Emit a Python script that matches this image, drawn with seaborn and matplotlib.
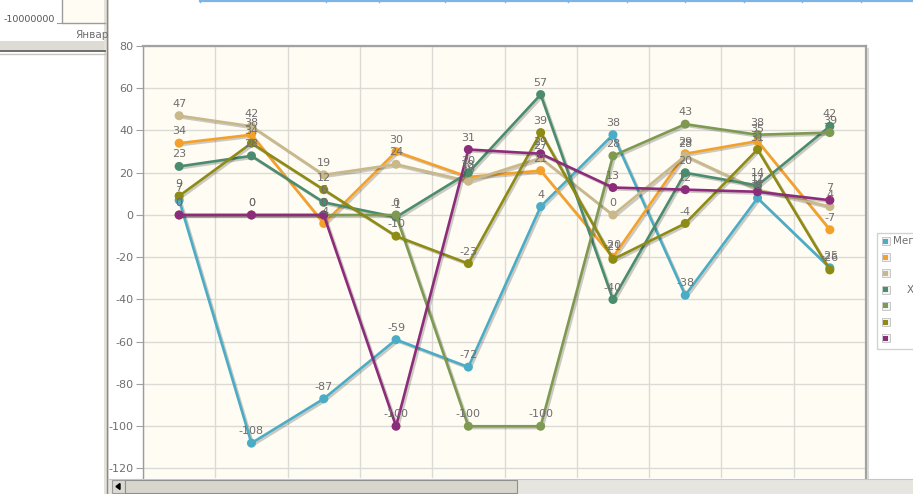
import numpy as np
import pandas as pd
import seaborn as sns
import matplotlib
matplotlib.use("Agg")
import matplotlib.pyplot as plt
import matplotlib.patheffects as pe
from matplotlib.patches import Rectangle, Polygon

# ---- data -------------------------------------------------------------
months = ["Январь", "Февраль", "Март", "Апрель", "Май",
          "Июнь", "Июль", "Август", "Сентябрь", "Октябрь"]

series_names = ["Мегаполис", "Север", "Юг", "Хабаровск", "Запад", "Восток", "Центр"]

megapolis = [7, -108, -87, -59, -72, 4, 38, -38, 8, -25]
sever     = [34, 38, -4, 30, 18, 21, -20, 29, 35, -7]
yug       = [47, 42, 19, 24, 16, 27, 0, 28, 12, 4]
khabarovsk = [23, 28, 6, -1, 20, 57, -40, 20, 14, 42]
zapad     = [0, 0, 0, 0, -100, -100, 28, 43, 38, 39]
vostok    = [9, 34, 12, -10, -23, 39, -21, -4, 31, -26]
centr     = [0, 0, 0, -100, 31, 29, 13, 12, 11, 7]

values = [megapolis, sever, yug, khabarovsk, zapad, vostok, centr]
colors = ["#4BACC6", "#F4A12C", "#C8B88A", "#4B8C6E", "#7E9952", "#8D8B14", "#8E2C7C"]

y_ticks = [80, 60, 40, 20, 0, -20, -40, -60, -80, -100, -120]

df = pd.DataFrame({
    "month": np.tile(months, len(series_names)),
    "series": np.repeat(series_names, len(months)),
    "value": np.concatenate(values),
})

# ---- figure -----------------------------------------------------------
W, H = 913, 494
fig = plt.figure(figsize=(W / 100, H / 100), dpi=100)
fig.patch.set_facecolor("white")

px_l, px_r, px_t, px_b = 143, 866, 46, 478
ax = fig.add_axes([px_l / W, (H - px_b) / H, (px_r - px_l) / W, (px_b - px_t) / H])
ax.set_facecolor("#FFFCF3")

sns.lineplot(data=df, x="month", y="value", hue="series", hue_order=series_names,
             palette=colors, marker="o", markersize=6.5, markeredgewidth=0,
             linewidth=1.9, legend=False, sort=False, ax=ax)

for line in ax.lines:
    line.set_path_effects([pe.SimpleLineShadow(offset=(1.3, -1.3), shadow_color="k", alpha=0.2),
                           pe.Normal()])

for vals in values:
    for i, v in enumerate(vals):
        ax.annotate(str(v), (i, v), xytext=(0, 5), textcoords="offset points",
                    ha="center", va="bottom", fontsize=8, color="#6E6E6E")

ax.set_xlim(-0.5, len(months) - 0.5)
ax.set_ylim(-124.5, 80)
ax.set_yticks(y_ticks)
ax.set_yticklabels([str(t) for t in y_ticks])
ax.set_xticks(np.arange(len(months) + 1) - 0.5)
ax.set_xticklabels([])
ax.tick_params(axis="x", length=0)
ax.tick_params(axis="y", length=5, width=0.8, color="#A0A0A0", labelsize=8,
               labelcolor="#6E6E6E", pad=2)
ax.grid(True, color="#DCDAD5", linewidth=1.0)
ax.set_axisbelow(True)
ax.set_xlabel("")
ax.set_ylabel("")
for side in ["top", "right"]:
    ax.spines[side].set_color("#A2A2A2")
    ax.spines[side].set_linewidth(1.6)
ax.spines["left"].set_color("#9C9C9C")
ax.spines["left"].set_linewidth(1.0)
ax.spines["bottom"].set_visible(False)

# ---- surrounding window pieces (pixel coordinates) ----------------------
ov = fig.add_axes([0, 0, 1, 1])
ov.set_xlim(0, W)
ov.set_ylim(H, 0)
ov.axis("off")
ov.set_zorder(5)

# frame shadow on the right edge of the chart box
ov.add_patch(Rectangle((px_r + 1, px_t + 2), 2, px_b - px_t, color="#D8D8D8", lw=0))

# left panel
ov.add_patch(Rectangle((62, 0), 43, 23, facecolor="#FFFCF3", edgecolor="none"))
ov.plot([62, 62, 105], [0, 23, 23], color="#9C9C9C", lw=1.0)
ov.plot([57, 62], [23, 23], color="#9C9C9C", lw=0.8)
ov.text(55, 20, "-10000000", ha="right", va="center", fontsize=6.8, color="#555555")
ov.text(75, 35, "Январ", ha="left", va="center", fontsize=7.5, color="#6E6E6E")
ov.add_patch(Rectangle((0, 41), 105, 9, facecolor="#DEDBD4", edgecolor="none"))
ov.plot([0, 105], [51, 51], color="#555555", lw=1.2)
ov.plot([0, 105], [54.5, 54.5], color="#C8C5BD", lw=1.0)
ov.add_patch(Rectangle((104, 0), 5, H, facecolor="#E4E1DA", edgecolor="none"))
ov.plot([107, 107], [0, H], color="#8A8A8A", lw=1.0)

# table edge along the top
ov.plot([200, W], [1.2, 1.2], color="#7DB4E6", lw=1.6)
for x in [200, 326, 379, 445, 505, 568, 627, 685, 744, 802, 861]:
    ov.plot([x, x], [0, 2.2], color="#7DB4E6", lw=1.0)

# horizontal scrollbar
ov.add_patch(Rectangle((109, 479), W - 109, 15, facecolor="#E7E5DF", edgecolor="none"))
ov.add_patch(Rectangle((112, 480), 13, 13, facecolor="#DCD9D1", edgecolor="#9A9A9A", lw=0.8))
ov.add_patch(Polygon([[116, 486.5], [120, 483.5], [120, 489.5]], closed=True, color="black"))
ov.add_patch(Rectangle((125, 480), 392, 13, facecolor="#D8D5CD", edgecolor="#8E8E8E", lw=0.8))
ov.plot([109, W], [479, 479], color="#C9C6BE", lw=0.8)

# legend
ov.add_patch(Rectangle((877, 233), 60, 116, facecolor="white", edgecolor="#D2D2D2", lw=1.0))
for k, (name, c) in enumerate(zip(series_names, colors)):
    yk = 241 + k * 16.2
    ov.add_patch(Rectangle((881.5, yk - 4), 8, 8, facecolor="#F2F2F2", edgecolor="#C8C8C8", lw=0.7))
    ov.add_patch(Rectangle((883, yk - 2.5), 5, 5, facecolor=c, edgecolor="none"))
ov.text(893, 241, series_names[0], ha="left", va="center", fontsize=7.5, color="#6E6E6E")
ov.text(907, 241 + 3 * 16.2, series_names[3], ha="left", va="center", fontsize=7.5, color="#6E6E6E")

fig.savefig("out.png", dpi=100, facecolor=fig.get_facecolor())
